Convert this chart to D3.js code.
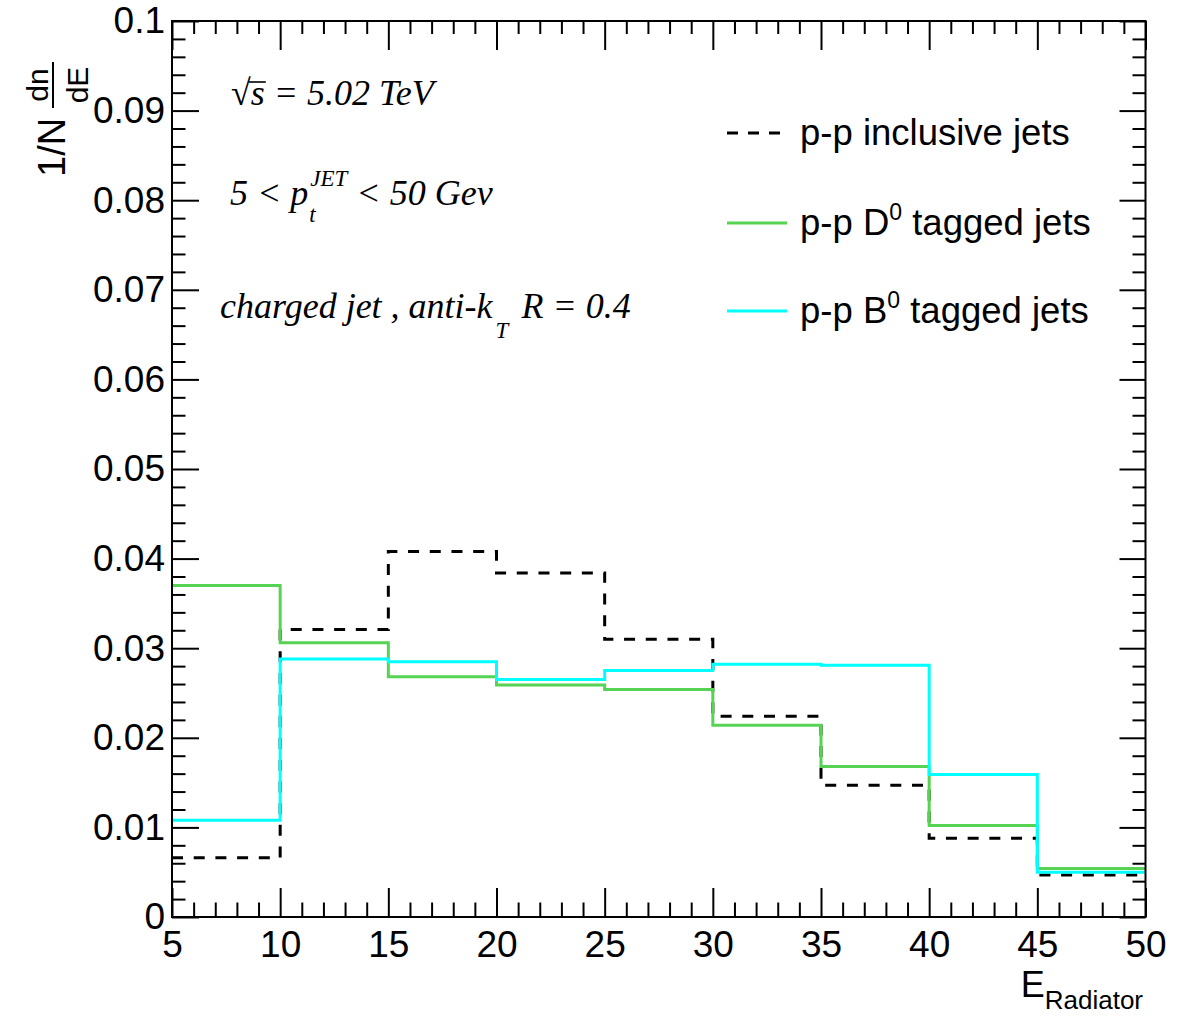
<!DOCTYPE html>
<html>
<head>
<meta charset="utf-8">
<script src="https://cdn.jsdelivr.net/npm/d3@7"></script>
<style>
  html, body { margin: 0; padding: 0; background: #fff; }
  svg { display: block; }
  .sans { font-family: "Liberation Sans", Arial, Helvetica, sans-serif; }
  .serif { font-family: "Liberation Serif", "Times New Roman", serif; font-style: italic; }
</style>
</head>
<body>
<svg id="chart" width="1178" height="1016"></svg>
<script>
// Bin edges of the radiator-energy histograms
const binEdges = [5, 10, 15, 20, 25, 30, 35, 40, 45, 50];
// Normalised bin contents, 1/N dn/dE
const inclusiveJets = [0.0066, 0.0321, 0.0408, 0.0384, 0.0310, 0.0224, 0.0147, 0.0088, 0.0047];
const d0TaggedJets  = [0.0370, 0.0306, 0.0268, 0.0259, 0.0254, 0.0214, 0.0168, 0.0102, 0.0054];
const b0TaggedJets  = [0.0108, 0.0288, 0.0285, 0.0265, 0.0275, 0.0282, 0.0281, 0.0159, 0.0050];
// Axis ticks
const xMajorTicks = [5, 10, 15, 20, 25, 30, 35, 40, 45, 50];
const yMajorTicks = [0, 0.01, 0.02, 0.03, 0.04, 0.05, 0.06, 0.07, 0.08, 0.09, 0.1];
const legendLabels = ["p-p inclusive jets", "p-p D", "p-p B"];

const svg = d3.select("#chart");
const frame = { left: 172, right: 1145.5, top: 21, bottom: 917 };

const x = d3.scaleLinear().domain([5, 50]).range([frame.left, frame.right]);
const y = d3.scaleLinear().domain([0, 0.1]).range([frame.bottom, frame.top]);

const xMinor = d3.range(5, 50.001, 1).filter(v => !xMajorTicks.includes(v));
const yMinor = d3.range(0, 0.1001, 0.002).map(v => +v.toFixed(4))
  .filter(v => !yMajorTicks.some(t => Math.abs(t - v) < 1e-6));

function styleAxis(g) {
  g.select(".domain").remove();
  g.selectAll("line").attr("stroke", "#000").attr("stroke-width", 2);
  g.selectAll("text").attr("fill", "#000");
}

// Bottom axis: labelled majors + minors
svg.append("g").attr("class", "sans")
  .attr("transform", `translate(0,${frame.bottom})`)
  .call(d3.axisBottom(x).tickValues(xMajorTicks).tickSize(-29).tickPadding(14).tickFormat(d3.format("d")))
  .call(styleAxis)
  .call(g => g.selectAll("text").attr("font-size", 37));
svg.append("g")
  .attr("transform", `translate(0,${frame.bottom})`)
  .call(d3.axisBottom(x).tickValues(xMinor).tickSize(-14.5).tickFormat(""))
  .call(styleAxis);
// Top axis: ticks only
svg.append("g")
  .attr("transform", `translate(0,${frame.top})`)
  .call(d3.axisTop(x).tickValues(xMajorTicks).tickSize(-29).tickFormat(""))
  .call(styleAxis);
svg.append("g")
  .attr("transform", `translate(0,${frame.top})`)
  .call(d3.axisTop(x).tickValues(xMinor).tickSize(-13).tickFormat(""))
  .call(styleAxis);

// Left axis: labelled majors + minors
svg.append("g").attr("class", "sans")
  .attr("transform", `translate(${frame.left},0)`)
  .call(d3.axisLeft(y).tickValues(yMajorTicks).tickSize(-27).tickPadding(7).tickFormat(d3.format(".2~f")))
  .call(styleAxis)
  .call(g => g.selectAll("text").attr("font-size", 37));
svg.append("g")
  .attr("transform", `translate(${frame.left},0)`)
  .call(d3.axisLeft(y).tickValues(yMinor).tickSize(-13.5).tickFormat(""))
  .call(styleAxis);
// Right axis: ticks only
svg.append("g")
  .attr("transform", `translate(${frame.right},0)`)
  .call(d3.axisRight(y).tickValues(yMajorTicks).tickSize(-26).tickFormat(""))
  .call(styleAxis);
svg.append("g")
  .attr("transform", `translate(${frame.right},0)`)
  .call(d3.axisRight(y).tickValues(yMinor).tickSize(-13).tickFormat(""))
  .call(styleAxis);

// Histogram step outlines
const stepLine = d3.line()
  .x(d => x(d[0]))
  .y(d => y(d[1]))
  .curve(d3.curveStepAfter);
function stepPoints(values) {
  const pts = values.map((v, i) => [binEdges[i], v]);
  pts.push([binEdges[binEdges.length - 1], values[values.length - 1]]);
  return pts;
}
const series = [
  { values: inclusiveJets, color: "#000000", dash: "11 10.7" },
  { values: d0TaggedJets,  color: "#57d353", dash: null },
  { values: b0TaggedJets,  color: "#00ffff", dash: null }
];
series.forEach(s => {
  svg.append("path")
    .attr("d", stepLine(stepPoints(s.values)))
    .attr("fill", "none")
    .attr("stroke", s.color)
    .attr("stroke-width", 3)
    .attr("stroke-dasharray", s.dash);
});

// Frame
svg.append("rect")
  .attr("x", frame.left).attr("y", frame.top)
  .attr("width", frame.right - frame.left).attr("height", frame.bottom - frame.top)
  .attr("fill", "none").attr("stroke", "#000").attr("stroke-width", 2);

// Legend
const legendRows = [133, 223, 311];
series.forEach((s, i) => {
  svg.append("line")
    .attr("x1", 727).attr("x2", 787)
    .attr("y1", legendRows[i]).attr("y2", legendRows[i])
    .attr("stroke", s.color).attr("stroke-width", 3)
    .attr("stroke-dasharray", s.dash ? "11 10" : null);
  const t = svg.append("text").attr("class", "sans")
    .attr("x", 800).attr("y", legendRows[i] + 12)
    .attr("font-size", 36.5).attr("fill", "#000");
  if (i === 0) {
    t.text(legendLabels[0]);
  } else {
    t.append("tspan").text(legendLabels[i]);
    t.append("tspan").attr("font-size", 23).attr("dy", -15).text("0");
    t.append("tspan").attr("dy", 15).text(" tagged jets");
  }
});

// Axis titles
const xTitle = svg.append("text").attr("class", "sans")
  .attr("x", 1143).attr("y", 997).attr("text-anchor", "end").attr("fill", "#000");
xTitle.append("tspan").attr("font-size", 36).text("E");
xTitle.append("tspan").attr("font-size", 26).attr("dy", 12).text("Radiator");

const yTitle = svg.append("g").attr("class", "sans").attr("transform", "rotate(-90)");
yTitle.append("text").attr("x", -177).attr("y", 65).attr("font-size", 38).text("1/N");
yTitle.append("text").attr("x", -85).attr("y", 48).attr("font-size", 30).attr("text-anchor", "middle").text("dn");
yTitle.append("line").attr("x1", -108).attr("x2", -62).attr("y1", 53).attr("y2", 53)
  .attr("stroke", "#000").attr("stroke-width", 2);
yTitle.append("text").attr("x", -85).attr("y", 88).attr("font-size", 30).attr("text-anchor", "middle").text("dE");

// Annotations (italic serif, with sub/superscripts)
const ann = svg.append("g").attr("class", "serif").attr("fill", "#000");
const mainSize = 36, scriptSize = 23;

// sqrt(s) = 5.02 TeV
const l1 = ann.append("text").attr("x", 231).attr("y", 105).attr("font-size", mainSize);
l1.append("tspan").attr("font-style", "normal").text("\u221A");
l1.append("tspan").text("s");
l1.append("tspan").text(" = 5.02 TeV");
{
  const root = l1.node();
  const rEnd = root.getEndPositionOfChar(0).x;
  const sEnd = root.getEndPositionOfChar(1).x;
  ann.append("line").attr("x1", rEnd - 2).attr("x2", sEnd + 1)
    .attr("y1", 82).attr("y2", 82).attr("stroke", "#000").attr("stroke-width", 1.6);
}

// 5 < p_t^JET < 50 Gev
const l2a = ann.append("text").attr("x", 230).attr("y", 205).attr("font-size", mainSize).text("5 < p");
const pEnd = 230 + l2a.node().getComputedTextLength();
const sup = ann.append("text").attr("x", pEnd + 2).attr("y", 186).attr("font-size", scriptSize).text("JET");
ann.append("text").attr("x", pEnd + 1).attr("y", 222).attr("font-size", scriptSize).text("t");
const supEnd = pEnd + 2 + sup.node().getComputedTextLength();
ann.append("text").attr("x", supEnd + 9).attr("y", 205).attr("font-size", mainSize).text("< 50 Gev");

// charged jet , anti-k_T R = 0.4
const l3a = ann.append("text").attr("x", 220).attr("y", 318).attr("font-size", mainSize).text("charged jet , anti-k");
const kEnd = 220 + l3a.node().getComputedTextLength();
const sub = ann.append("text").attr("x", kEnd + 3).attr("y", 338).attr("font-size", scriptSize).text("T");
const subEnd = kEnd + 3 + sub.node().getComputedTextLength();
ann.append("text").attr("x", subEnd + 13).attr("y", 318).attr("font-size", mainSize).text("R = 0.4");
</script>
</body>
</html>
